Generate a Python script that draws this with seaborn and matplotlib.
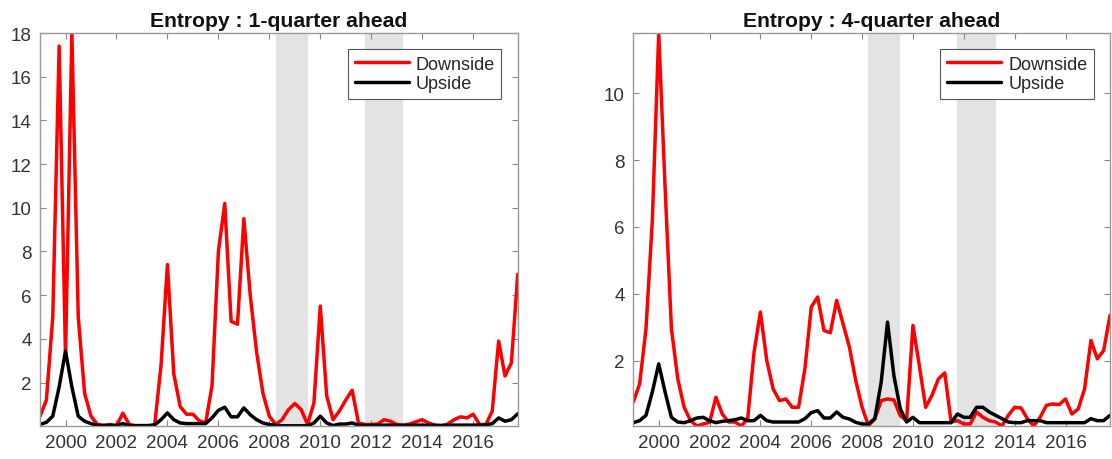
import numpy as np
import pandas as pd
import matplotlib
matplotlib.use("Agg")
import matplotlib.pyplot as plt
import seaborn as sns

# Quarterly sample 1999Q1 - 2017Q4
quarters = np.arange(1999.0, 2018.0, 0.25)

# 1-quarter-ahead entropy
down_1q = [0.46, 1.2, 5.0, 17.4, 3.2, 18.0, 5.0, 1.5, 0.46, 0.08,
           0.03, 0.08, 0.02, 0.6, 0.08, 0.02, 0.02, 0.02, 0.05, 2.8,
           7.4, 2.4, 0.9, 0.55, 0.55, 0.25, 0.15, 1.85, 8.0, 10.2,
           4.8, 4.67, 9.5, 6.0, 3.4, 1.5, 0.46, 0.08, 0.3, 0.76,
           1.04, 0.76, 0.08, 1.07, 5.5, 1.4, 0.3, 0.7, 1.2, 1.65,
           0.15, 0.08, 0.08, 0.1, 0.3, 0.23, 0.08, 0.05, 0.1, 0.2,
           0.3, 0.15, 0.05, 0.01, 0.1, 0.3, 0.43, 0.38, 0.55, 0.08,
           0.08, 0.7, 3.9, 2.3, 2.9, 6.96]
up_1q = [0.08, 0.18, 0.46, 1.8, 3.44, 1.8, 0.46, 0.23, 0.12, 0.04,
         0.04, 0.04, 0.04, 0.12, 0.03, 0.03, 0.03, 0.03, 0.06, 0.3,
         0.61, 0.3, 0.15, 0.12, 0.12, 0.12, 0.12, 0.38, 0.73, 0.87,
         0.43, 0.43, 0.84, 0.53, 0.3, 0.15, 0.08, 0.04, 0.02, 0.02,
         0.02, 0.02, 0.02, 0.15, 0.46, 0.15, 0.03, 0.1, 0.1, 0.15,
         0.05, 0.04, 0.04, 0.04, 0.05, 0.05, 0.04, 0.04, 0.04, 0.05,
         0.05, 0.04, 0.04, 0.04, 0.04, 0.05, 0.05, 0.05, 0.05, 0.05,
         0.06, 0.12, 0.38, 0.23, 0.3, 0.57]

# 4-quarter-ahead entropy
down_4q = [0.76, 1.3, 2.95, 6.2, 11.8, 7.2, 2.95, 1.45, 0.6, 0.2,
           0.04, 0.1, 0.15, 0.9, 0.4, 0.16, 0.16, 0.04, 0.26, 2.25,
           3.45, 2.0, 1.15, 0.8, 0.85, 0.6, 0.6, 1.75, 3.6, 3.9,
           2.9, 2.83, 3.8, 3.1, 2.4, 1.4, 0.6, 0.05, 0.26, 0.8,
           0.85, 0.82, 0.35, 0.2, 3.05, 1.85, 0.6, 0.96, 1.45, 1.63,
           0.16, 0.2, 0.1, 0.1, 0.46, 0.3, 0.2, 0.16, 0.04, 0.36,
           0.6, 0.58, 0.26, 0.04, 0.3, 0.66, 0.7, 0.68, 0.85, 0.4,
           0.55, 1.15, 2.6, 2.05, 2.3, 3.35]
up_4q = [0.14, 0.2, 0.36, 1.06, 1.9, 1.06, 0.3, 0.16, 0.14, 0.2,
         0.28, 0.3, 0.2, 0.14, 0.18, 0.2, 0.23, 0.28, 0.2, 0.2,
         0.36, 0.2, 0.16, 0.16, 0.16, 0.16, 0.16, 0.26, 0.44, 0.5,
         0.28, 0.28, 0.46, 0.3, 0.25, 0.15, 0.1, 0.1, 0.26, 1.35,
         3.15, 1.55, 0.56, 0.16, 0.3, 0.14, 0.14, 0.14, 0.14, 0.14,
         0.14, 0.4, 0.3, 0.3, 0.6, 0.6, 0.46, 0.36, 0.26, 0.16,
         0.14, 0.14, 0.2, 0.2, 0.2, 0.14, 0.14, 0.14, 0.14, 0.14,
         0.14, 0.14, 0.26, 0.2, 0.2, 0.36]

# Recession periods (shaded)
recessions = [(2008.25, 2009.5), (2011.75, 2013.25)]

panel_titles = ["Entropy : 1-quarter ahead", "Entropy : 4-quarter ahead"]
series_labels = ["Downside", "Upside"]
year_ticks = list(range(2000, 2017, 2))
y_ticks = [list(range(2, 19, 2)), list(range(2, 11, 2))]

sns.set_theme(style="white")
plt.rcParams["font.family"] = ["Liberation Sans", "DejaVu Sans"]

fig = plt.figure(figsize=(11.12, 4.6), dpi=100)
ax_l = fig.add_axes([0.036, 0.0717, 0.4296, 0.8543])
ax_r = fig.add_axes([0.5695, 0.0717, 0.4287, 0.8543])

panels = [(ax_l, down_1q, up_1q), (ax_r, down_4q, up_4q)]
for k, (ax, down, up) in enumerate(panels):
    df = pd.DataFrame({"date": quarters, "Downside": down, "Upside": up})
    ymin = min(min(down), min(up))
    ymax = max(max(down), max(up))
    for a, b in recessions:
        ax.axvspan(a, b, color="#e3e3e3", lw=0, zorder=0)
    sns.lineplot(data=df, x="date", y="Downside", color="#ff0000", lw=2.5,
                 ax=ax, label=series_labels[0])
    sns.lineplot(data=df, x="date", y="Upside", color="#000000", lw=2.5,
                 ax=ax, label=series_labels[1])
    ax.set_xlim(quarters[0], quarters[-1])
    ax.set_ylim(ymin, ymax)
    ax.set_xticks(year_ticks)
    ax.set_xticklabels([str(y) for y in year_ticks])
    ax.set_yticks(y_ticks[k])
    ax.set_xlabel("")
    ax.set_ylabel("")
    ax.set_title(panel_titles[k], fontsize=15.2, fontweight="bold",
                 color="#111111", pad=5)
    ax.tick_params(axis="both", which="both", direction="in", length=4,
                   width=0.8, color="#888888", labelsize=13.5,
                   labelcolor="#333333", top=True, right=True,
                   left=True, bottom=True, pad=6)
    for s in ax.spines.values():
        s.set_color("#999999")
        s.set_linewidth(1.0)
    leg = ax.legend(loc="upper right", fontsize=13, frameon=True,
                    fancybox=False, edgecolor="#555555", framealpha=1,
                    handlelength=3.0, handletextpad=0.4, borderpad=0.35,
                    labelspacing=0.15, borderaxespad=0.9)
    leg.get_frame().set_linewidth(0.8)
    for line in leg.get_lines():
        line.set_linewidth(2.5)

fig.savefig("out.png", dpi=100)
